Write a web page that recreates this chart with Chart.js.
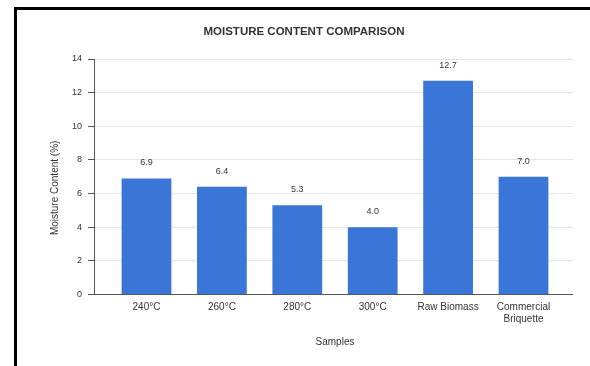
<!DOCTYPE html>
<html>
<head>
<meta charset="utf-8">
<script src="https://cdn.jsdelivr.net/npm/chart.js@4.4.1/dist/chart.umd.min.js"></script>
<style>
  html, body { margin: 0; padding: 0; width: 590px; height: 366px; overflow: hidden; background: #fff; }
  #frame { position: absolute; left: 14px; top: 7px; right: -10px; bottom: -10px;
           border-top: 3px solid #000; border-left: 3px solid #000; }
  #wrap { position: absolute; left: 14px; top: 7px; width: 576px; height: 359px; }
</style>
</head>
<body>
<div id="frame"></div>
<div id="wrap"><canvas id="chart"></canvas></div>
<script>
// Sample categories and measured moisture content (%)
const categories = ['240°C', '260°C', '280°C', '300°C', 'Raw Biomass', ['Commercial', 'Briquette']];
const moisture = [6.9, 6.4, 5.3, 4.0, 12.7, 7.0];
const yTicks = [0, 2, 4, 6, 8, 10, 12, 14];

const FONT = '"Liberation Sans", Arial, sans-serif';
const BAR = '#3a76d7';
const INK = '#333333';

// Insets the category axis inside the plot so bars sit away from the y axis
const insetCategories = {
  id: 'insetCategories',
  afterLayout(chart) {
    const x = chart.scales.x;
    const area = chart.chartArea;
    x.left = area.left + 14.8;
    x.right = area.right - 11.8;
    x.width = x.right - x.left;
    x.configure();
  }
};

// Value labels printed above each bar
const valueLabels = {
  id: 'valueLabels',
  afterDatasetsDraw(chart) {
    const ctx = chart.ctx;
    const meta = chart.getDatasetMeta(0);
    ctx.save();
    ctx.font = '9px ' + FONT;
    ctx.fillStyle = INK;
    ctx.textAlign = 'center';
    ctx.textBaseline = 'middle';
    meta.data.forEach((bar, i) => {
      ctx.fillText(moisture[i].toFixed(1), bar.x, bar.y - 15.5);
    });
    ctx.restore();
  }
};

new Chart(document.getElementById('chart'), {
  type: 'bar',
  data: {
    labels: categories,
    datasets: [{
      label: 'Moisture Content (%)',
      data: moisture,
      backgroundColor: BAR,
      borderWidth: 0,
      barPercentage: 0.66,
      categoryPercentage: 1
    }]
  },
  options: {
    responsive: true,
    maintainAspectRatio: false,
    animation: false,
    devicePixelRatio: 1,
    layout: { padding: { left: 21, right: 17, top: 0, bottom: 0 } },
    plugins: {
      legend: { display: false },
      tooltip: { enabled: false },
      title: {
        display: true,
        text: 'MOISTURE CONTENT COMPARISON',
        color: INK,
        font: { family: FONT, size: 11.5, weight: 'bold', lineHeight: 1.2 },
        padding: { top: 18, bottom: 20.2 }
      }
    },
    scales: {
      x: {
        grid: { display: false, drawTicks: false },
        border: { display: false },
        ticks: {
          color: INK,
          padding: 6.5,
          maxRotation: 0,
          autoSkip: false,
          font: { family: FONT, size: 10, lineHeight: 1.2 }
        },
        title: {
          display: true,
          text: 'Samples',
          color: INK,
          font: { family: FONT, size: 10, lineHeight: 1.2 },
          padding: { top: 0, bottom: 18 }
        },
        afterFit(scale) { scale.height = 71.5; }
      },
      y: {
        min: 0,
        max: 14,
        afterBuildTicks(scale) { scale.ticks = yTicks.map(v => ({ value: v })); },
        grid: {
          color: ctx => (ctx.tick && ctx.tick.value === 0 ? '#555555' : '#e4e4e4'),
          lineWidth: 1,
          drawTicks: true,
          tickLength: 6,
          tickColor: '#555555'
        },
        border: { display: true, color: '#555555', width: 1 },
        ticks: {
          color: INK,
          padding: 6,
          font: { family: FONT, size: 9 }
        },
        title: {
          display: true,
          // trailing spaces nudge the rotated caption slightly below the axis middle
          text: 'Moisture Content (%)        ',
          color: INK,
          font: { family: FONT, size: 10, lineHeight: 1.2 },
          padding: { top: 14, bottom: 0 }
        },
        afterFit(scale) { scale.width = 59; }
      }
    }
  },
  plugins: [insetCategories, valueLabels]
});
</script>
</body>
</html>
